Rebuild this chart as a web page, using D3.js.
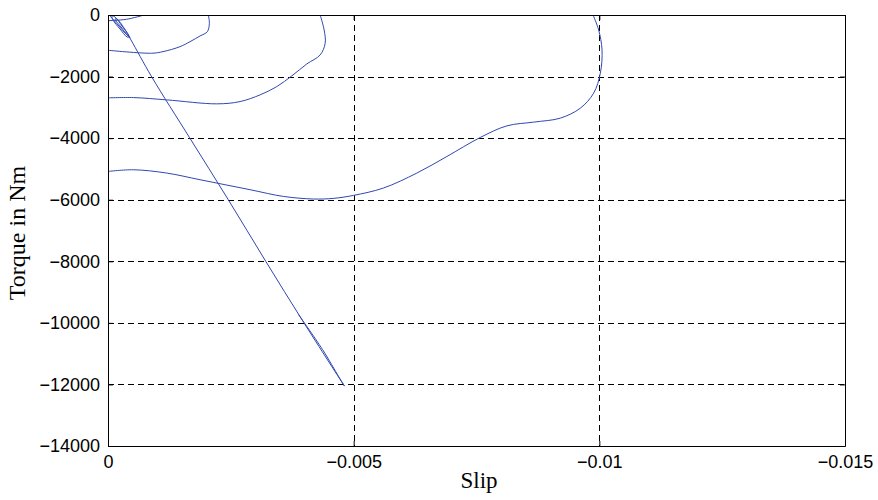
<!DOCTYPE html>
<html><head><meta charset="utf-8">
<script src="https://cdn.jsdelivr.net/npm/d3@7"></script>
<style>body{margin:0;background:#fff}</style>
</head><body>
<svg id="chart" width="878" height="500"></svg>
<script>
const xTicks = [0, -0.005, -0.01, -0.015];
const xTickLabels = ["0", "\u22120.005", "\u22120.01", "\u22120.015"];
const yTicks = [0, -2000, -4000, -6000, -8000, -10000, -12000, -14000];
const yTickLabels = ["0", "\u22122000", "\u22124000", "\u22126000", "\u22128000", "\u221210000", "\u221212000", "\u221214000"];

// trajectory from origin: small loops, then straight descent, then short return
const mainSlip = [-0.000041,-0.000204,-0.000346,-0.000428,-0.000387,-0.000244,-0.000102,-0.000081,-0.000143,-0.000285,-0.000407,-0.000448,-0.000407,-0.000265,-0.000143,-0.000183,-0.000326,-0.000468,-0.00089,-0.001662,-0.002448,-0.003208,-0.00398,-0.004813,-0.004705,-0.004365,-0.003876];
const mainTorque = [-32,-324,-584,-713,-713,-454,-162,-32,-65,-357,-616,-746,-681,-389,-130,-130,-422,-811,-2011,-3989,-6000,-7994,-9979,-12054,-11772,-10864,-9729];

const aSlip = [0, -0.000375, -0.000733];
const aTorque = [-185, -140, 0];

const bSlip = [0, -0.00089, -0.00112, -0.001466, -0.00167, -0.001874, -0.002022, -0.002063, -0.002043];
const bTorque = [-1145, -1242, -1190, -1028, -866, -681, -542, -269, 0];

const cSlip = [0, -0.000515, -0.001195, -0.002214, -0.002688, -0.003096, -0.003436, -0.003741, -0.004047, -0.004318, -0.00442, -0.004399, -0.004318];
const cTorque = [-2692, -2682, -2757, -2886, -2812, -2594, -2325, -1978, -1589, -1297, -918, -486, 0];

const dSlip = [0, -0.000515, -0.001195, -0.001874, -0.002892, -0.00357, -0.004181, -0.004582, -0.004996, -0.005607, -0.006287, -0.006898, -0.007576, -0.00812, -0.008662, -0.009206, -0.009613, -0.009884, -0.01002, -0.010055, -0.009986, -0.009872];
const dTorque = [-5082, -5027, -5134, -5351, -5675, -5893, -5977, -5957, -5860, -5620, -5134, -4595, -3979, -3600, -3480, -3350, -3026, -2539, -1891, -1135, -486, 0];

const margin = {left: 108, top: 15, right: 33, bottom: 54};
const W = 878, H = 500;
const svg = d3.select("#chart");
const x = d3.scaleLinear().domain([0, -0.015]).range([margin.left, W - margin.right]);
const y = d3.scaleLinear().domain([-14000, 0]).range([H - margin.bottom, margin.top]);

// grid
const g = svg.append("g");
g.selectAll(".vg").data(xTicks.slice(1, -1)).join("line")
  .attr("x1", d => Math.round(x(d)) + 0.5).attr("x2", d => Math.round(x(d)) + 0.5)
  .attr("y1", y(0)).attr("y2", y(-14000))
  .attr("stroke", "#000").attr("stroke-width", 1).attr("stroke-dasharray", "6,4");
g.selectAll(".hg").data(yTicks.slice(1, -1)).join("line")
  .attr("y1", d => Math.round(y(d)) + 0.5).attr("y2", d => Math.round(y(d)) + 0.5)
  .attr("x1", x(0)).attr("x2", x(-0.015))
  .attr("stroke", "#000").attr("stroke-width", 1).attr("stroke-dasharray", "6,4");

// clip
svg.append("clipPath").attr("id", "clip").append("rect")
  .attr("x", x(0)).attr("y", y(0)).attr("width", x(-0.015) - x(0)).attr("height", y(-14000) - y(0));

const line = d3.line().x(d => x(d[0])).y(d => y(d[1])).curve(d3.curveCatmullRom.alpha(0.5));
const series = [[mainSlip, mainTorque], [aSlip, aTorque], [bSlip, bTorque], [cSlip, cTorque], [dSlip, dTorque]];
const lg = svg.append("g").attr("clip-path", "url(#clip)");
series.forEach(([s, t]) => {
  lg.append("path").datum(s.map((v, i) => [v, t[i]])).attr("d", line)
    .attr("fill", "none").attr("stroke", "#3048b0").attr("stroke-width", 1);
});

// axes (ticks inside)
const xAxis = d3.axisBottom(x).tickValues(xTicks).tickFormat((d, i) => xTickLabels[i]).tickSizeInner(-5).tickSizeOuter(0).tickPadding(9);
const yAxis = d3.axisLeft(y).tickValues(yTicks).tickFormat((d, i) => yTickLabels[i]).tickSizeInner(-5).tickSizeOuter(0).tickPadding(8);
const xa = svg.append("g").attr("transform", `translate(0,${y(-14000)})`).call(xAxis);
const ya = svg.append("g").attr("transform", `translate(${x(0)},0)`).call(yAxis);
const xt = svg.append("g").attr("transform", `translate(0,${y(0)})`).call(d3.axisTop(x).tickValues(xTicks).tickFormat("").tickSizeInner(-5).tickSizeOuter(0));
const yr = svg.append("g").attr("transform", `translate(${x(-0.015)},0)`).call(d3.axisRight(y).tickValues(yTicks).tickFormat("").tickSizeInner(-5).tickSizeOuter(0));
[xa, ya, xt, yr].forEach(a => {
  a.select(".domain").attr("stroke", "#000").attr("stroke-width", 1);
  a.selectAll(".tick line").attr("stroke", "#000");
  a.selectAll("text").attr("font-family", "Liberation Sans, Arial, sans-serif").attr("font-size", 18).attr("fill", "#000");
});

svg.append("text").attr("x", 479).attr("y", 488).attr("text-anchor", "middle")
  .attr("font-family", "Liberation Serif, Times New Roman, serif").attr("font-size", 23).text("Slip");
svg.append("text").attr("transform", `translate(25,233) rotate(-90)`).attr("text-anchor", "middle")
  .attr("font-family", "Liberation Serif, Times New Roman, serif").attr("font-size", 24).text("Torque in Nm");
</script>
</body></html>
